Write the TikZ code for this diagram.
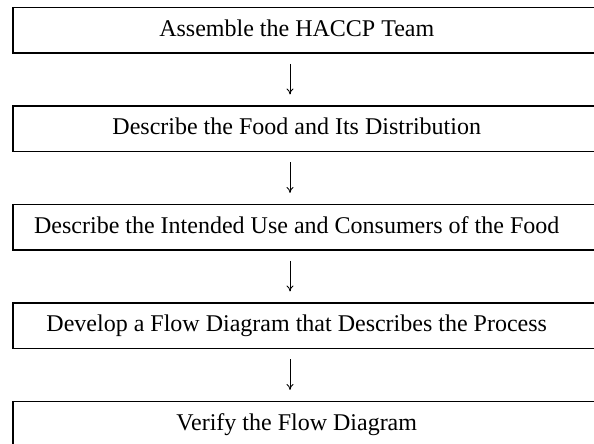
\documentclass[tikz,border=0pt]{standalone}
\usepackage{fontspec}
\setmainfont{Liberation Serif}
\usetikzlibrary{positioning,arrows.meta}

\newcommand{\steplabel}[1]{\makebox[568pt]{#1}\hspace*{16pt}}

\begin{document}
\begin{tikzpicture}[x=1pt, y=1pt,
        stepbox/.style={rectangle, draw=black, line width=1.5pt, inner sep=0pt, minimum height=45.5pt, text height=17pt, text depth=5pt, font=\fontsize{24}{28}\selectfont},
        flowarrow/.style={-{To[length=6pt, width=7pt]}, line width=0.8pt}]

        \useasboundingbox (0,0) rectangle (594,444);

        \node[stepbox, anchor=west] (team) at (12,413.5) {\steplabel{Assemble the HACCP Team}};
        \node[stepbox] (food) [below=51.5pt of team] {\steplabel{Describe the Food and Its Distribution}};
        \node[stepbox] (use) [below=51.5pt of food] {\steplabel{Describe the Intended Use and Consumers of the Food}};
        \node[stepbox] (flow) [below=51.5pt of use] {\steplabel{Develop a Flow Diagram that Describes the Process}};
        \node[stepbox] (verify) [below=51.5pt of flow] {\steplabel{Verify the Flow Diagram}};

        \draw[flowarrow] ([shift={(278pt,-10pt)}]team.south west) -- ([shift={(278pt,11pt)}]food.north west);
        \draw[flowarrow] ([shift={(278pt,-10pt)}]food.south west) -- ([shift={(278pt,11pt)}]use.north west);
        \draw[flowarrow] ([shift={(278pt,-10pt)}]use.south west) -- ([shift={(278pt,11pt)}]flow.north west);
        \draw[flowarrow] ([shift={(278pt,-10pt)}]flow.south west) -- ([shift={(278pt,11pt)}]verify.north west);

        \end{tikzpicture}
\end{document}
